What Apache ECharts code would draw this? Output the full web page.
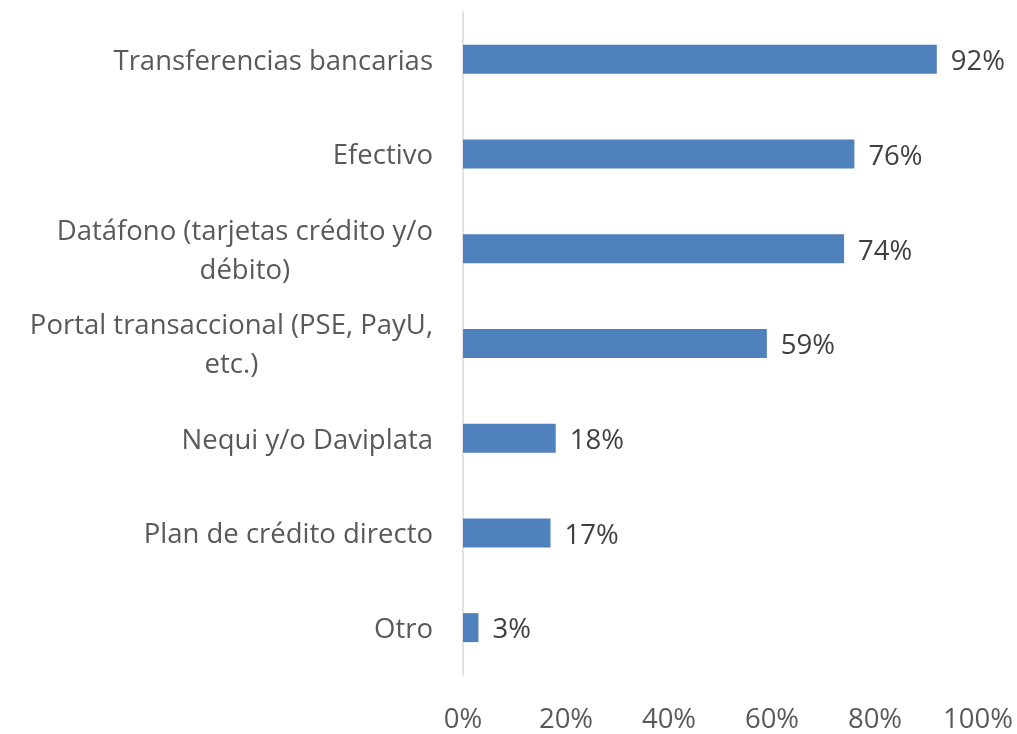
<!DOCTYPE html>
<html>
<head>
<meta charset="utf-8">
<script src="https://cdn.jsdelivr.net/npm/echarts@6/dist/echarts.min.js"></script>
<style>
  html, body { margin: 0; padding: 0; background: #fff; }
  #chart { width: 1017px; height: 734px; }
</style>
</head>
<body>
<div id="chart"></div>
<script>
// categorías (\n = salto de línea como en el original)
var categories = [
  "Transferencias bancarias",
  "Efectivo",
  "Datáfono (tarjetas crédito y/o\ndébito)",
  "Portal transaccional (PSE, PayU,\netc.)",
  "Nequi y/o Daviplata",
  "Plan de crédito directo",
  "Otro"
];
var values = [92, 76, 74, 59, 18, 17, 3];
var xTicks = [0, 20, 40, 60, 80, 100];

var FONT = "Open Sans";
var chart = echarts.init(document.getElementById("chart"));

chart.setOption({
  animation: false,
  grid: {
    left: 463,
    right: 39,
    top: 12,
    bottom: 54,
    containLabel: false
  },
  xAxis: {
    type: "value",
    min: xTicks[0],
    max: xTicks[xTicks.length - 1],
    interval: 20,
    axisLine: { show: false },
    axisTick: { show: false },
    splitLine: { show: false },
    axisLabel: {
      margin: 31,
      color: "#595959",
      fontFamily: FONT,
      fontSize: 27.5,
      formatter: function (v) { return v + "%"; }
    }
  },
  yAxis: {
    type: "category",
    inverse: true,
    data: categories,
    axisLine: { show: true, lineStyle: { color: "#d9d9d9", width: 1.5 } },
    axisTick: { show: false },
    axisLabel: {
      margin: 30,
      padding: [5, 0, 0, 0],
      color: "#595959",
      fontFamily: FONT,
      fontSize: 27.5,
      lineHeight: 39,
      formatter: function (v) {
        // cada línea centrada dentro del bloque
        return v.split("\n").map(function (l) { return "{c|" + l + "}"; }).join("\n");
      },
      rich: {
        c: {
          align: "center",
          color: "#595959",
          fontFamily: FONT,
          fontSize: 27.5,
          lineHeight: 39
        }
      }
    }
  },
  series: [
    {
      type: "bar",
      data: values,
      barWidth: 29,
      itemStyle: { color: "#4f81bd" },
      label: {
        show: true,
        position: "right",
        distance: 14,
        offset: [0, 3],
        color: "#404040",
        fontFamily: FONT,
        fontSize: 27.5,
        formatter: "{c}%"
      }
    }
  ]
});
</script>
</body>
</html>
